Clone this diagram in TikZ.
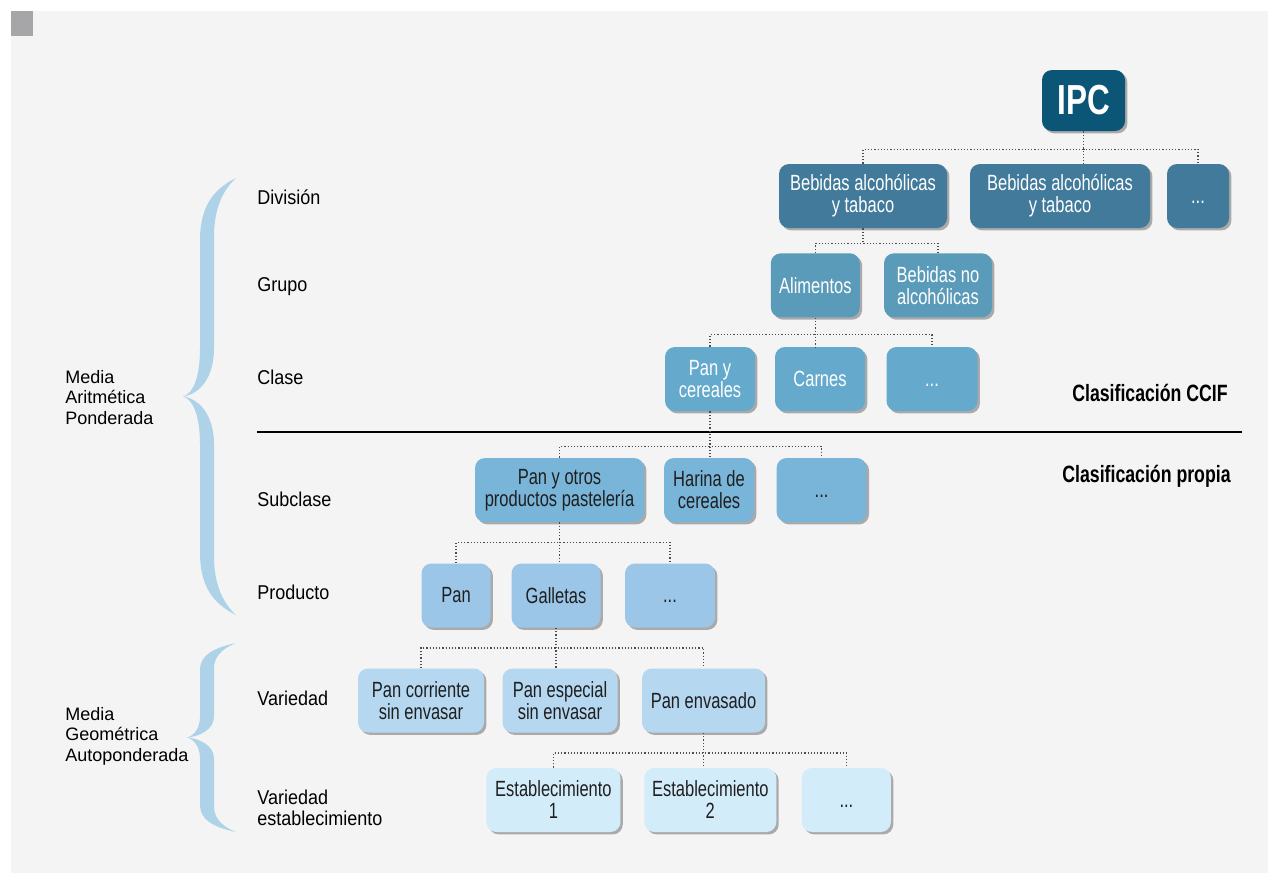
\documentclass[tikz,border=0pt]{standalone}
\usepackage{fontspec}
\setmainfont{Liberation Sans}
\newfontfamily\condfont[FakeStretch=0.75]{Liberation Sans}
\newfontfamily\levelfont[FakeStretch=0.9]{Liberation Sans}
\usetikzlibrary{shadows}

\definecolor{bgcol}{HTML}{F4F4F4}
\definecolor{markcol}{HTML}{A6A6A8}
\definecolor{bracecol}{HTML}{AED3E8}
\definecolor{ipccol}{HTML}{0B5576}
\definecolor{divcol}{HTML}{417A9A}
\definecolor{grpcol}{HTML}{5B9BBA}
\definecolor{clscol}{HTML}{65A9CD}
\definecolor{subcol}{HTML}{79B4D9}
\definecolor{prdcol}{HTML}{9BC6E8}
\definecolor{varcol}{HTML}{B5D7F0}
\definecolor{estcol}{HTML}{D3ECFA}
\definecolor{inkcol}{HTML}{1F1F1F}

\tikzset{
  box/.style={rounded corners=5pt, inner sep=0pt, align=center, minimum height=32pt,
    font=\condfont\fontsize{11}{11}\selectfont,
    drop shadow={shadow xshift=1.2pt, shadow yshift=-1.2pt, opacity=0.3, fill=black}},
  lightbox/.style={box, text=white},
  darkbox/.style={box, text=inkcol},
  link/.style={densely dotted, line width=0.6pt, black!70},
  level/.style={anchor=west, align=left, inner sep=0pt, font=\levelfont\fontsize{10}{10.5}\selectfont},
  meanname/.style={anchor=west, align=left, inner sep=0pt, font=\fontsize{9}{10.25}\selectfont},
  classname/.style={font=\condfont\bfseries\fontsize{11.8}{12}\selectfont},
}

% dots sitting in the middle of a box
\newcommand\etcdots{\raisebox{-7pt}{...}}

% blue curly brace: (top y:bottom y:tip x)
\def\bluebrace(#1:#2:#3){%
  \pgfmathsetmacro\bym{(#1+#2)/2}%
  \pgfmathsetmacro\bh{(#2-#1)/2}%
  \pgfmathsetmacro\ba{0.27*\bh}%
  \pgfmathsetmacro\bt{0.22*\bh}%
  \fill[bracecol] (236,#1) .. controls (212,#1+0.2*\ba) and (201,#1+0.5*\ba) .. (200,#1+\ba)
    -- (200,\bym-\bt) .. controls (200,\bym-0.35*\bt) and (192,\bym-0.05*\bt) .. (#3,\bym)
    .. controls (192,\bym+0.05*\bt) and (200,\bym+0.35*\bt) .. (200,\bym+\bt)
    -- (200,#2-\ba) .. controls (201,#2-0.5*\ba) and (212,#2-0.2*\ba) .. (236,#2)
    .. controls (220,#2-0.25*\ba) and (214,#2-0.6*\ba) .. (214,#2-\ba)
    -- (214,\bym+\bt) .. controls (214,\bym+0.4*\bt) and (200,\bym+0.05*\bt) .. (#3,\bym)
    .. controls (200,\bym-0.05*\bt) and (214,\bym-0.4*\bt) .. (214,\bym-\bt)
    -- (214,#1+\ba) .. controls (214,#1+0.6*\ba) and (220,#1+0.25*\ba) .. (236,#1) -- cycle;
}

\begin{document}
\begin{tikzpicture}[x=0.5pt, y=-0.5pt]
  %%%%% BACKGROUND %%%%%
  \useasboundingbox (0,0) rectangle (1268,873);
  \fill[white] (0,0) rectangle (1268,873);
  \fill[bgcol] (11,11) rectangle (1268,873);
  \fill[markcol] (11,11) rectangle (33,36);

  %%%%% LEFT SIDE %%%%%
  \bluebrace(178:615:183);
  \bluebrace(643:832:187);
  \node[meanname] (arit) at (65,397.5) {Media\\Aritmética\\Ponderada};
  \node[meanname] (geom) at (65,736) {Media\\Geométrica\\Autoponderada};

  \node[level] (lvdiv) at (257,197) {División};
  \node[level] (lvgrp) at (257,287) {Grupo};
  \node[level] (lvcls) at (257,377) {Clase};
  \node[level] (lvsub) at (257,499) {Subclase};
  \node[level] (lvprd) at (257,592) {Producto};
  \node[level] (lvvar) at (257,698) {Variedad};
  \node[level] (lvest) at (257,808) {Variedad\\establecimiento};

  \draw[line width=0.6pt] (257,432) -- (1242,432);
  \node[classname] (ccif) at (1150,393) {Clasificación CCIF};
  \node[classname] (propia) at (1146.5,476) {Clasificación propia};

  %%%%% BOXES %%%%%
  \node[lightbox, fill=ipccol, minimum width=41.5pt, minimum height=30.5pt,
    font=\condfont\bfseries\fontsize{21}{21}\selectfont] (ipc) at (1083.5,100.5) {IPC};

  \node[lightbox, fill=divcol, minimum width=84pt] (div1) at (863,196) {Bebidas alcohólicas\\y tabaco};
  \node[lightbox, fill=divcol, minimum width=90pt] (div2) at (1060,196) {Bebidas alcohólicas\\y tabaco};
  \node[lightbox, fill=divcol, minimum width=31pt] (div3) at (1198,196) {\etcdots};

  \node[lightbox, fill=grpcol, minimum width=44.5pt] (grp1) at (815.3,285.3) {Alimentos};
  \node[lightbox, fill=grpcol, minimum width=54pt] (grp2) at (938,285.3) {Bebidas no\\alcohólicas};

  \node[lightbox, fill=clscol, minimum width=45pt] (cls1) at (710,379) {Pan y\\cereales};
  \node[lightbox, fill=clscol, minimum width=45pt] (cls2) at (820,379) {Carnes};
  \node[lightbox, fill=clscol, minimum width=45.5pt] (cls3) at (932,379) {\etcdots};

  \node[darkbox, fill=subcol, minimum width=84.5pt] (sub1) at (559.5,490) {Pan y otros\\productos pastelería};
  \node[darkbox, fill=subcol, minimum width=45pt] (sub2) at (709,490) {Harina de\\cereales};
  \node[darkbox, fill=subcol, minimum width=45pt] (sub3) at (821.6,490) {\etcdots};

  \node[darkbox, fill=prdcol, minimum width=34.5pt] (prd1) at (456,595.5) {Pan};
  \node[darkbox, fill=prdcol, minimum width=44.5pt] (prd2) at (556,595.5) {Galletas};
  \node[darkbox, fill=prdcol, minimum width=45pt] (prd3) at (670,595.5) {\etcdots};

  \node[darkbox, fill=varcol, minimum width=63pt] (var1) at (421,700.5) {Pan corriente\\sin envasar};
  \node[darkbox, fill=varcol, minimum width=57.5pt] (var2) at (560,700.5) {Pan especial\\sin envasar};
  \node[darkbox, fill=varcol, minimum width=61.5pt] (var3) at (703.5,700.5) {Pan envasado};

  \node[darkbox, fill=estcol, minimum width=67pt] (est1) at (553.4,800) {Establecimiento\\1};
  \node[darkbox, fill=estcol, minimum width=66pt] (est2) at (710.3,800) {Establecimiento\\2};
  \node[darkbox, fill=estcol, minimum width=44.5pt] (est3) at (846.4,800) {\etcdots};

  %%%%% LINKS %%%%%
  \draw[link] (ipc.south) -- (ipc.south |- div2.north);
  \draw[link] (div1.north) |- ([yshift=-9pt]ipc.south) -| (div3.north);

  \draw[link] (div1.south) -- ([yshift=-7.5pt]div1.south);
  \draw[link] (grp1.north) |- ([yshift=-7.5pt]div1.south) -| (grp2.north);

  \draw[link] (grp1.south) -- (grp1.south |- cls2.north);
  \draw[link] (cls1.north) |- ([yshift=-8.5pt]grp1.south) -| (cls3.north);

  \draw[link] (cls1.south) -- (cls1.south |- sub2.north);
  \draw[link] (sub1.north) |- ([yshift=-17.5pt]cls1.south) -| (sub3.north);

  \draw[link] (sub1.south) -- (sub1.south |- prd2.north);
  \draw[link] (prd1.north) |- ([yshift=-10pt]sub1.south) -| (prd3.north);

  \draw[link] (prd2.south) -- (prd2.south |- var2.north);
  \draw[link] (var1.north) |- ([yshift=-10pt]prd2.south) -| (var3.north);

  \draw[link] (var3.south) -- (var3.south |- est2.north);
  \draw[link] (est1.north) |- ([yshift=-10pt]var3.south) -| (est3.north);
\end{tikzpicture}
\end{document}
